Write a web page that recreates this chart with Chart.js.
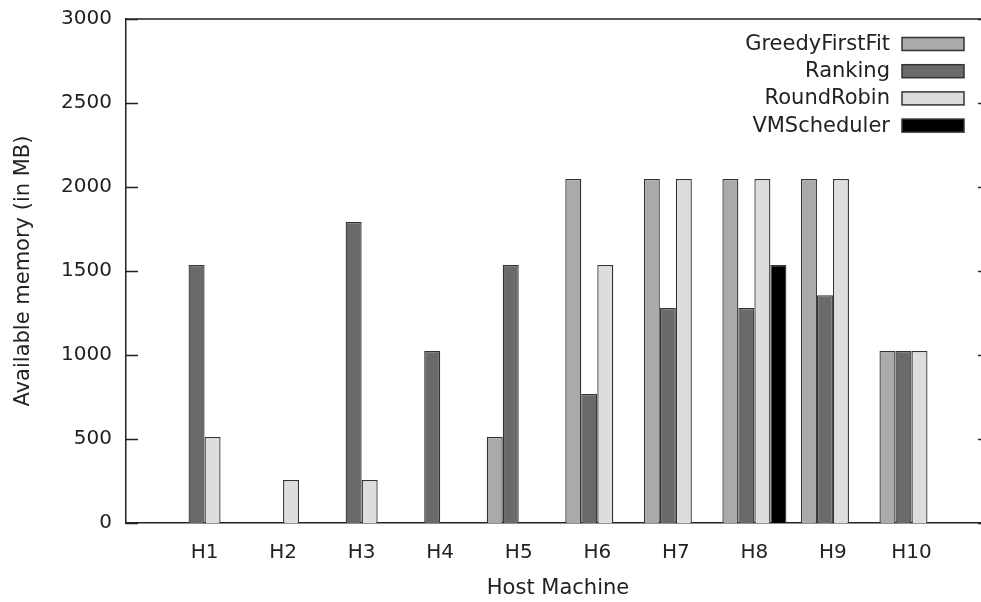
<!DOCTYPE html>
<html>
<head>
<meta charset="utf-8">
<script src="https://cdn.jsdelivr.net/npm/chart.js@4/dist/chart.umd.min.js"></script>
<style>
  html, body { margin: 0; padding: 0; background: #fff; overflow: hidden; }
  #wrap { width: 981px; height: 602px; }
</style>
</head>
<body>
<div id="wrap"><canvas id="myChart" width="981" height="602"></canvas></div>
<script>
// hosts on the x axis
var hosts = ["H1", "H2", "H3", "H4", "H5", "H6", "H7", "H8", "H9", "H10"];
var seriesNames = ["GreedyFirstFit", "Ranking", "RoundRobin", "VMScheduler"];
var seriesColors = ["#aaaaaa", "#6a6a6a", "#dddddd", "#000000"];

// available memory in MB, null = no bar
var greedyFirstFit = [null, null, null, null, 512, 2048, 2048, 2048, 2048, 1024];
var ranking        = [1536, null, 1792, 1024, 1536, 768, 1280, 1280, 1356, 1024];
var roundRobin     = [512, 256, 256, null, null, 1536, 2048, 2048, 2048, 1024];
var vmScheduler    = [null, null, null, null, null, null, null, 1536, null, null];

var yTicks = [0, 500, 1000, 1500, 2000, 2500, 3000];

var FONT = "'DejaVu Sans', sans-serif";
var INK = "#222";

function toPoints(arr) {
  return arr.map(function (v, i) { return { x: i + 1, y: v }; });
}

var allSeries = [greedyFirstFit, ranking, roundRobin, vmScheduler];
var datasets = allSeries.map(function (arr, k) {
  return {
    label: seriesNames[k],
    data: toPoints(arr),
    backgroundColor: seriesColors[k],
    borderColor: "#333",
    borderWidth: 1.3,
    borderSkipped: "start",
    categoryPercentage: 0.815,
    barPercentage: 1.0
  };
});

// gnuplot-ish frame: top line, inward tics, x title, right-hand legend
var framePlugin = {
  id: "frame",
  afterDraw: function (chart) {
    var ctx = chart.ctx;
    var area = chart.chartArea;
    var x = chart.scales.x, y = chart.scales.y;
    var rightEdge = x.getPixelForValue(11);
    ctx.save();
    ctx.strokeStyle = INK;
    ctx.lineWidth = 1.5;
    ctx.beginPath();
    ctx.moveTo(area.left, area.top);
    ctx.lineTo(chart.width, area.top);
    yTicks.forEach(function (v) {
      var py = Math.round(y.getPixelForValue(v)) + 0.5;
      ctx.moveTo(area.left, py);
      ctx.lineTo(area.left + 12, py);
      ctx.moveTo(rightEdge - 12, py);
      ctx.lineTo(rightEdge, py);
    });
    ctx.stroke();

    // x axis title, centred on the whole gnuplot frame
    ctx.font = "21px " + FONT;
    ctx.fillStyle = INK;
    ctx.textAlign = "center";
    ctx.textBaseline = "middle";
    ctx.fillText("Host Machine", x.getPixelForValue(5.5), 589);

    // legend
    ctx.textAlign = "right";
    seriesNames.forEach(function (name, i) {
      var cy = 43.5 + i * 27.2;
      ctx.fillStyle = INK;
      ctx.fillText(name, 890, cy + 1);
      ctx.fillStyle = seriesColors[i];
      ctx.fillRect(902, cy - 6, 62, 13);
      ctx.strokeStyle = "#333";
      ctx.lineWidth = 1.5;
      ctx.strokeRect(902, cy - 6, 62, 13);
    });
    ctx.restore();
  }
};

var ctx = document.getElementById("myChart").getContext("2d");
var myChart = new Chart(ctx, {
  type: "bar",
  data: { datasets: datasets },
  options: {
    responsive: false,
    animation: false,
    layout: { padding: { top: 19, right: 0, left: 0, bottom: 0 } },
    plugins: {
      legend: { display: false },
      tooltip: { enabled: false }
    },
    scales: {
      x: {
        type: "linear",
        offset: false,
        min: 0,
        max: 10.885,
        grid: { display: false, drawTicks: false },
        border: { display: true, color: INK, width: 1.5 },
        ticks: {
          autoSkip: false,
          maxRotation: 0,
          padding: 18,
          color: INK,
          font: { family: FONT, size: 20 },
          callback: function (v) { return hosts[v - 1] || ""; }
        },
        afterBuildTicks: function (scale) {
          scale.ticks = hosts.map(function (h, i) { return { value: i + 1 }; });
        },
        title: { display: false },
        afterFit: function (scale) {
          scale.height = 79;
          scale.paddingLeft = 0;
          scale.paddingRight = 0;
        }
      },
      y: {
        min: 0,
        max: 3000,
        grid: { display: false, drawTicks: false },
        border: { display: true, color: INK, width: 1.5 },
        ticks: {
          stepSize: 500,
          padding: 14,
          color: INK,
          font: { family: FONT, size: 20 },
          callback: function (v) { return String(v); }
        },
        title: {
          display: true,
          text: "Available memory (in MB)",
          color: INK,
          font: { family: FONT, size: 21 },
          padding: { top: 11, bottom: 0 }
        },
        afterFit: function (scale) {
          scale.width = 126;
          scale.paddingTop = 0;
          scale.paddingBottom = 0;
        }
      }
    }
  },
  plugins: [framePlugin]
});
</script>
</body>
</html>
